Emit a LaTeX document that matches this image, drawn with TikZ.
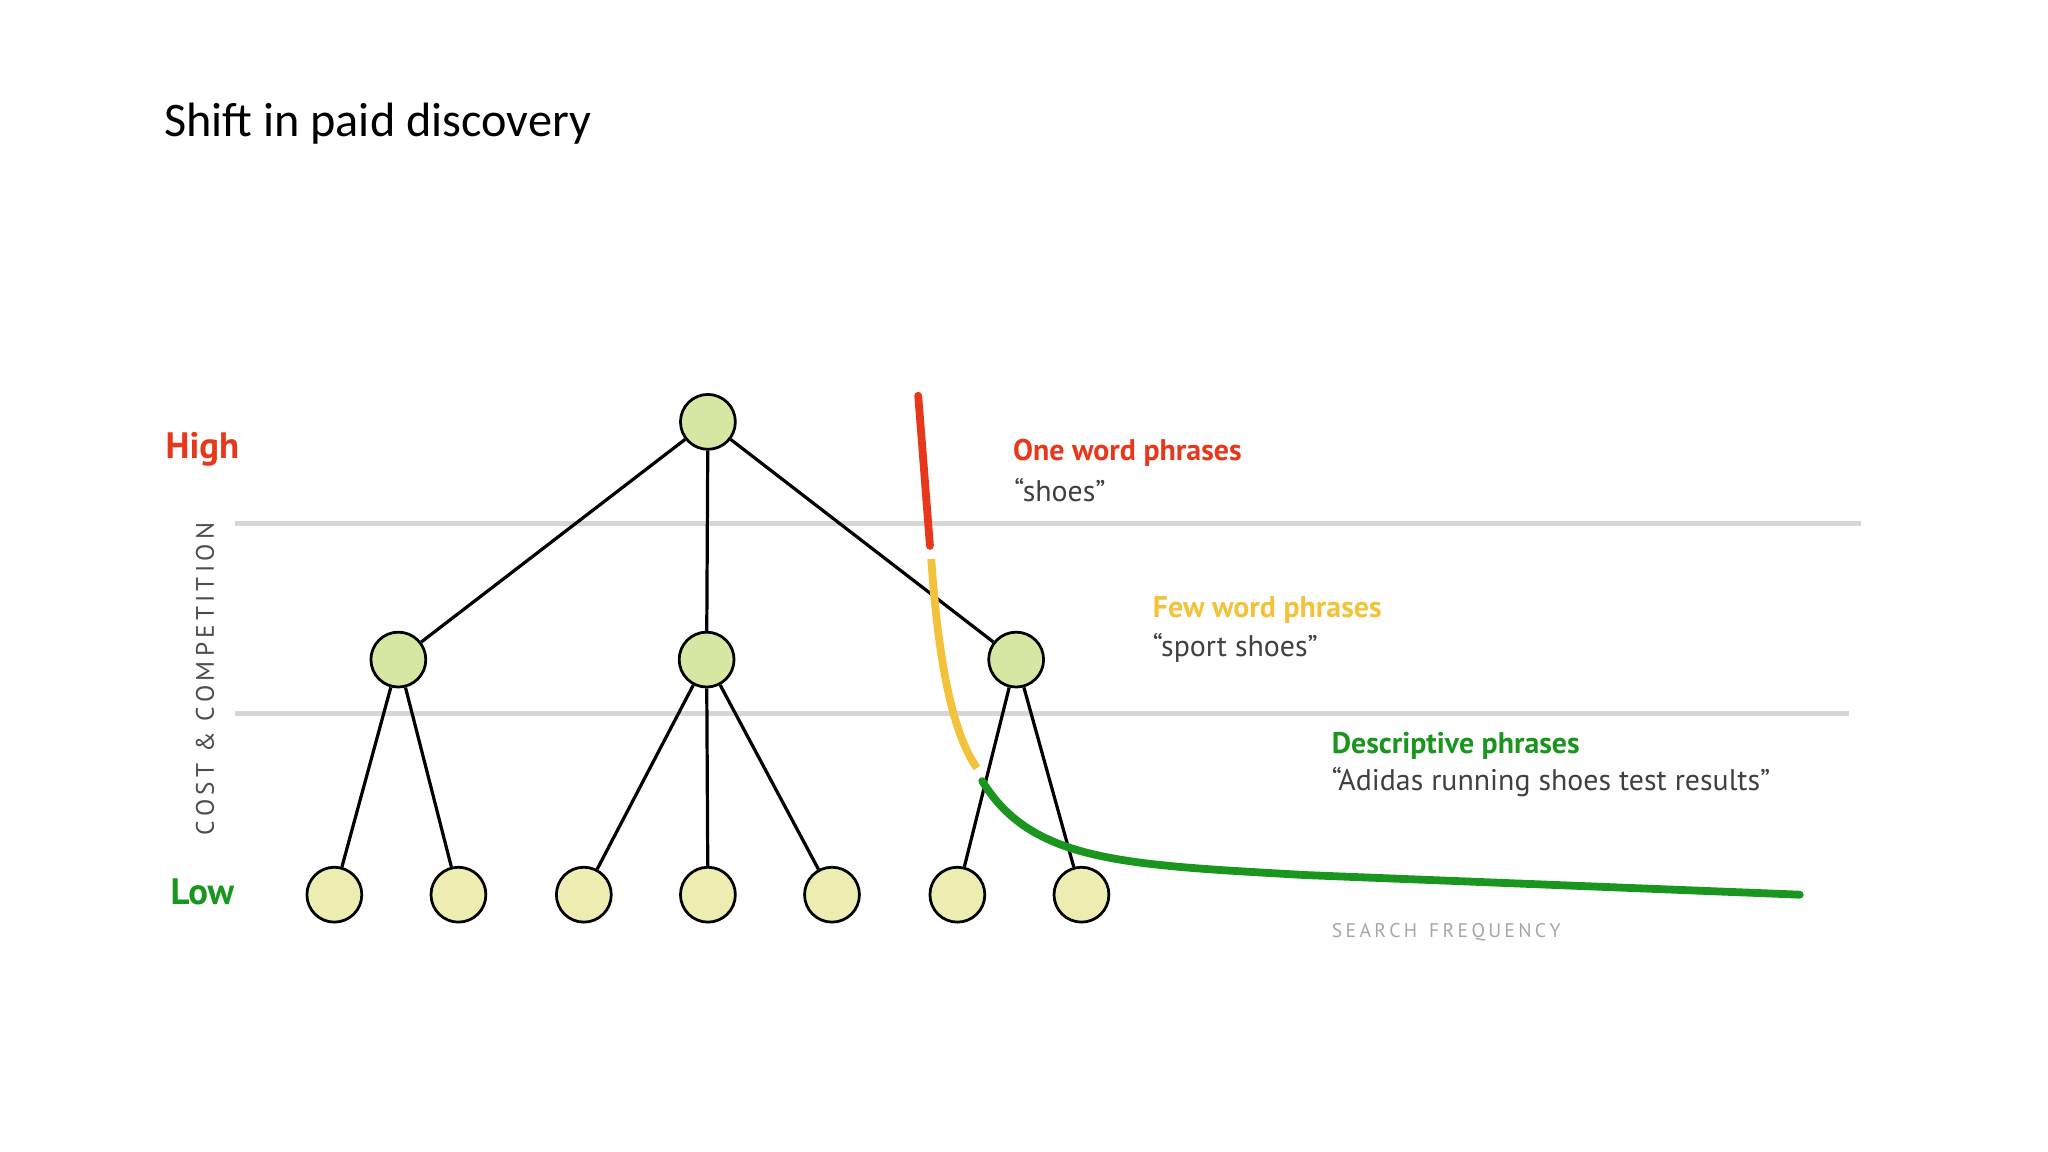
\documentclass[tikz,border=0pt]{standalone}
\usepackage{fontspec}
\setmainfont{Carlito}
\newfontfamily\din{PT Sans}
\begin{document}
\begin{tikzpicture}[x=0.01cm,y=-0.01cm,
  leaf/.style={circle,draw=black,line width=0.6pt,fill=leafc,minimum size=0.42cm,inner sep=0pt},
  mid/.style={leaf,fill=midc},
  edge/.style={line width=0.7pt,black},
  lab/.style={font=\din\fontsize{6.5}{7}\selectfont,anchor=west,inner sep=0pt}]
\definecolor{leafc}{HTML}{EDEDB2}
\definecolor{midc}{HTML}{D5E7A2}
\definecolor{redc}{HTML}{E8381C}
\definecolor{yelc}{HTML}{F2C23A}
\definecolor{grnc}{HTML}{1A961E}
\definecolor{grayl}{HTML}{D6D6D6}
\useasboundingbox (0,0) rectangle (1568,882);
\node[anchor=west,font=\fontsize{10.5}{12}\selectfont,inner sep=0pt] (title) at (125,95) {Shift in paid discovery};
\coordinate (g1a) at (180,401); \coordinate (g1b) at (1425,401);
\coordinate (g2a) at (180,546); \coordinate (g2b) at (1416,546);
\draw[grayl,line width=1.1pt] (g1a) -- (g1b);
\draw[grayl,line width=1.1pt] (g2a) -- (g2b);
\node[mid] (r) at (542,323) {};
\node[mid] (m1) at (305,505) {};
\node[mid] (m2) at (541,505) {};
\node[mid] (m3) at (778,505) {};
\foreach \i/\x in {1/256,2/351,3/447,4/542,5/637,6/733,7/828}
  \node[leaf] (l\i) at (\x,685) {};
\draw[edge] (r) -- (m1); \draw[edge] (r) -- (m2); \draw[edge] (r) -- (m3);
\draw[edge] (m1) -- (l1); \draw[edge] (m1) -- (l2);
\draw[edge] (m2) -- (l3); \draw[edge] (m2) -- (l4); \draw[edge] (m2) -- (l5);
\draw[edge] (m3) -- (l6); \draw[edge] (m3) -- (l7);
\coordinate (c0) at (703,303); \coordinate (c1) at (712,418);
\coordinate (c2) at (713,428); \coordinate (c3) at (748,588);
\coordinate (c4) at (752,598); \coordinate (c5) at (1378,685);
\draw[redc,line width=1.7pt,line cap=round] (c0) .. controls (706,340) and (709,380) .. (c1);
\draw[yelc,line width=1.7pt] (c2) .. controls (718,500) and (728,560) .. (c3);
\draw[grnc,line width=1.7pt,line cap=round] (c4) .. controls (790,660) and (860,662) .. (1000,670) -- (c5);
\node[font=\din\bfseries\fontsize{8}{9}\selectfont,text=redc] (hi) at (155,344) {High};
\node[font=\din\bfseries\fontsize{8}{9}\selectfont,text=grnc] (lo) at (155,683) {Low};
\node[rotate=90,font=\din\fontsize{5.5}{6}\selectfont,text=black!70] (ax) at (157,520) {C\,O\,S\,T \,\&\, C\,O\,M\,P\,E\,T\,I\,T\,I\,O\,N};
\node[lab,font=\din\bfseries\fontsize{6.5}{7}\selectfont,text=redc] (t1) at (775,347) {One word phrases};
\node[lab,text=black!75] (s1) at (776,375) {“shoes”};
\node[lab,font=\din\bfseries\fontsize{6.5}{7}\selectfont,text=yelc] (t2) at (882,467) {Few word phrases};
\node[lab,text=black!75] (s2) at (882,496) {“sport shoes”};
\node[lab,font=\din\bfseries\fontsize{6.5}{7}\selectfont,text=grnc] (t3) at (1019,571) {Descriptive phrases};
\node[lab,text=black!75] (s3) at (1019,599) {“Adidas running shoes test results”};
\node[lab,font=\din\fontsize{4.3}{5}\selectfont,text=black!35] (sf) at (1019,714) {S\,E\,A\,R\,C\,H\, \,F\,R\,E\,Q\,U\,E\,N\,C\,Y};
\end{tikzpicture}
\end{document}
